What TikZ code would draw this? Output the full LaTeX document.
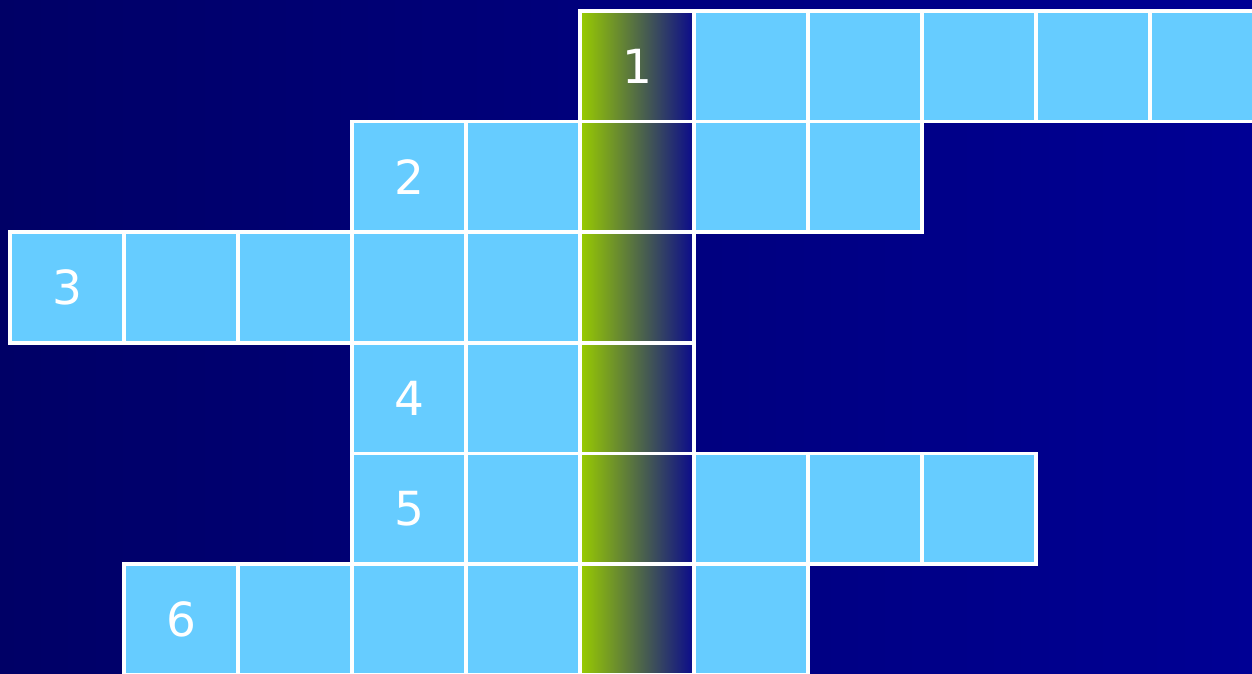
\documentclass[tikz,border=0pt]{standalone}
\usepackage{fontspec}
\setmainfont{DejaVu Sans}
\definecolor{bgL}{RGB}{0,0,102}
\definecolor{bgR}{RGB}{0,0,148}
\definecolor{cellblue}{RGB}{102,204,255}
\definecolor{lime}{RGB}{153,204,0}
\definecolor{navy}{RGB}{10,10,140}
\tikzset{
  cell/.style={draw=white, line width=3.6pt, fill=cellblue, minimum width=114pt, minimum height=110.6pt, inner sep=0pt, outer sep=0pt, text=white, font=\fontsize{47}{47}\selectfont},
  keycell/.style={cell, left color=lime, right color=navy}
}
\begin{document}
\begin{tikzpicture}[x=1pt,y=-1pt]
\useasboundingbox (0,0) rectangle (1252,674);
\shade[left color=bgL, right color=bgR] (0,0) rectangle (1252,674);
\begin{scope}
\clip (0,0) rectangle (1252,674);
% row 1
\node[keycell] (r1c5) at (637,66.3) {1};
\foreach \k in {6,...,10} \node[cell] (r1c\k) at ({67+114*\k},66.3) {};
% row 2
\node[cell] (r2c3) at (409,176.9) {2};
\node[cell] (r2c4) at (523,176.9) {};
\node[keycell] (r2c5) at (637,176.9) {};
\node[cell] (r2c6) at (751,176.9) {};
\node[cell] (r2c7) at (865,176.9) {};
% row 3
\node[cell] (r3c0) at (67,287.5) {3};
\foreach \k in {1,...,4} \node[cell] (r3c\k) at ({67+114*\k},287.5) {};
\node[keycell] (r3c5) at (637,287.5) {};
% row 4
\node[cell] (r4c3) at (409,398.1) {4};
\node[cell] (r4c4) at (523,398.1) {};
\node[keycell] (r4c5) at (637,398.1) {};
% row 5
\node[cell] (r5c3) at (409,508.7) {5};
\node[cell] (r5c4) at (523,508.7) {};
\node[keycell] (r5c5) at (637,508.7) {};
\foreach \k in {6,7,8} \node[cell] (r5c\k) at ({67+114*\k},508.7) {};
% row 6
\node[cell] (r6c1) at (181,619.3) {6};
\foreach \k in {2,3,4} \node[cell] (r6c\k) at ({67+114*\k},619.3) {};
\node[keycell] (r6c5) at (637,619.3) {};
\node[cell] (r6c6) at (751,619.3) {};
\end{scope}
\end{tikzpicture}
\end{document}
